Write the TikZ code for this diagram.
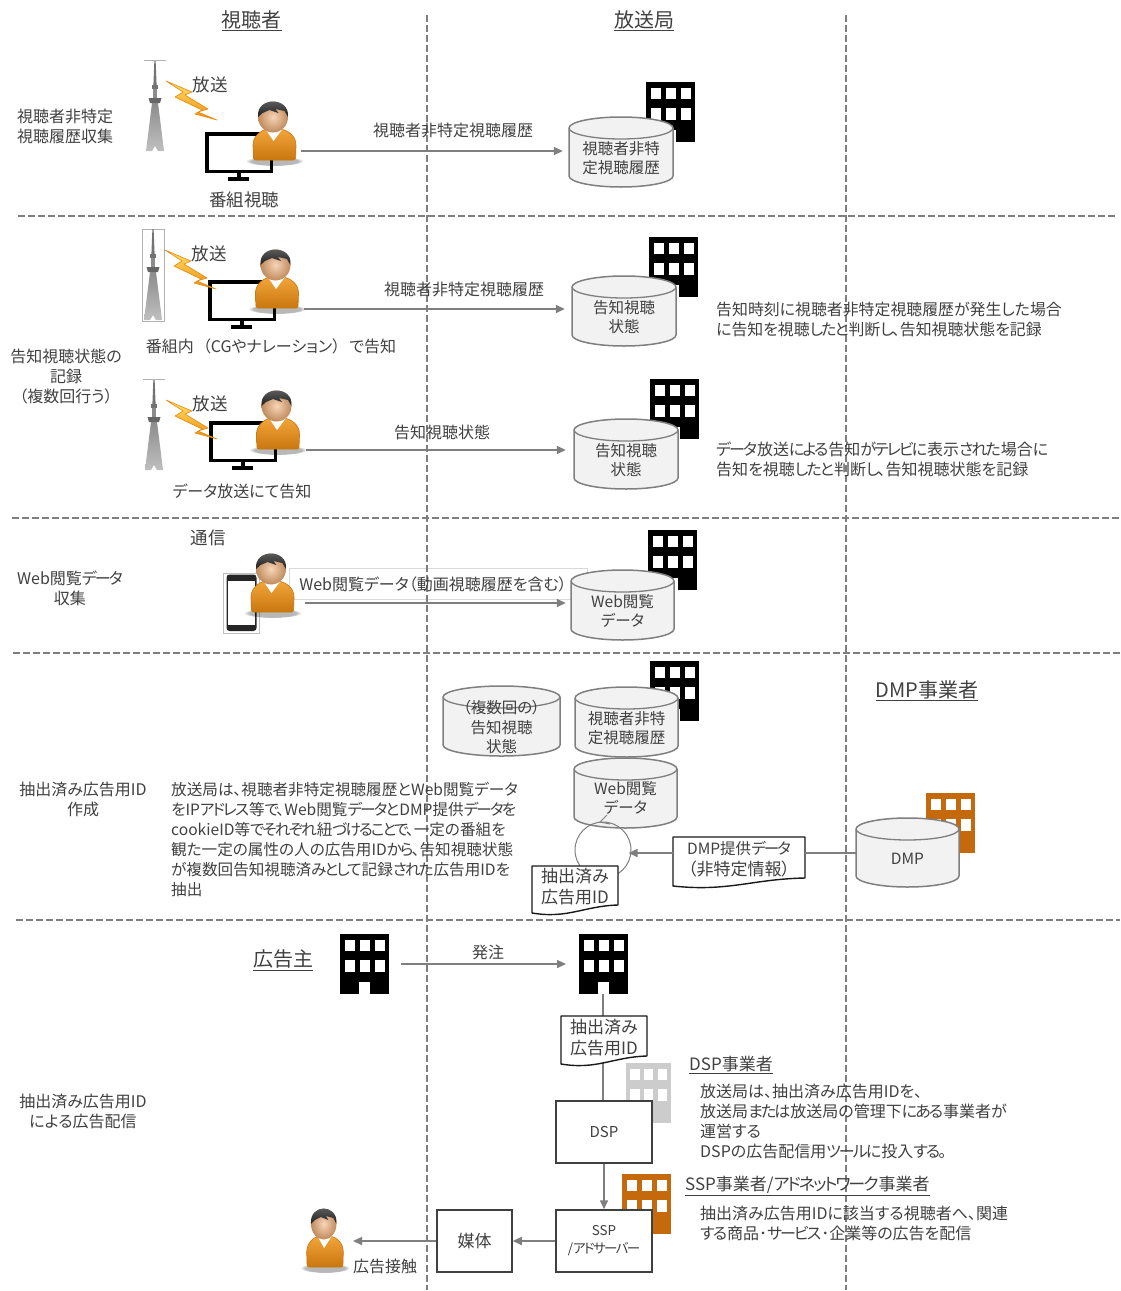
\documentclass[tikz,border=0pt]{standalone}
\usepackage{fontspec}
\setmainfont[RawFeature=+palt]{Noto Sans CJK JP}
\usetikzlibrary{arrows.meta,fadings,calc}
\newcommand\nk[1]{{\addfontfeature{LetterSpace=-12}#1}}
\definecolor{ink}{HTML}{404040}
\definecolor{gline}{HTML}{7F7F7F}
\definecolor{orangeb}{HTML}{C46A0C}
\definecolor{boltA}{HTML}{FFE36A}
\definecolor{boltB}{HTML}{EE8C0C}
\definecolor{boltE}{HTML}{E58A10}
\definecolor{bodyA}{HTML}{F2A53A}
\definecolor{bodyB}{HTML}{C9770F}
\definecolor{faceA}{HTML}{F6D5B8}
\definecolor{faceB}{HTML}{C08A5C}
\definecolor{hairA}{HTML}{5A5A5A}
\definecolor{hairB}{HTML}{1E1E1E}
\tikzset{
  x=1pt,y=-1pt,
  txt/.style={text=ink,inner sep=0pt,align=center,font=\fontsize{16}{20}\selectfont},
  txtb/.style={txt,font=\fontsize{17.5}{20}\selectfont},
  txtc/.style={txt,font=\fontsize{15.5}{19.5}\selectfont},
  txtl/.style={txt,anchor=west,align=left},
  titletxt/.style={txt,font=\fontsize{20}{24}\selectfont},
  subtitle/.style={txt,font=\fontsize{17}{20}\selectfont},
  dashline/.style={draw=gline,line width=1.3pt,dash pattern=on 6.5pt off 3.5pt},
  conn/.style={draw=gline,line width=1.5pt},
  arr/.style={conn,-{Triangle[length=9pt,width=8pt]}},
  cylbody/.style={fill=black!5,draw=gline,line width=1.5pt,line join=round},
  cylrim/.style={draw=gline,line width=1.3pt},
  sqbox/.style={draw=ink,fill=white,line width=1.5pt,text=ink,inner sep=0pt,align=center},
  pics/bldg/.style={code={
    \fill[#1] (0,0) rectangle (49,60);
    \foreach \cx in {4.7,19.5,34.5}{
      \fill[white] (\cx,5.5) rectangle (\cx+10.3,16.5);
      \fill[white] (\cx,25.5) rectangle (\cx+10.3,38);
    }
    \fill[white] (19,48) rectangle (29.5,60);
  }},
  pics/personfig/.style={code={
    \fill[black,opacity=.28,path fading=circle with fuzzy edge 20 percent] (0,1) ellipse (29 and 5);
    \shade[top color=bodyA,bottom color=bodyB,draw=bodyB,line width=.6pt,rounded corners=2pt]
      (-21,0) -- (-21.5,-13) .. controls (-21.5,-25) and (-12,-30) .. (-6,-31) -- (5,-31)
      .. controls (12,-30) and (21.5,-25) .. (21.5,-13) -- (21,0) -- cycle;
    \fill[white] (-9,-31) -- (-1,-19) -- (8,-31) -- cycle;
    \shade[inner color=faceA,outer color=faceB] (-1.5,-43) ellipse (15 and 15.5);
    \shade[top color=hairA,bottom color=hairB]
      (-16.5,-43) .. controls (-17.5,-54) and (-9,-58.5) .. (-1.5,-58.5)
      .. controls (6,-58.5) and (14.5,-54) .. (13.5,-43) -- (10,-49) -- (1,-51) -- (4,-47)
      -- (-5,-50) -- (-12,-47) -- cycle;
  }},
  pics/monitorfig/.style={code={
    \draw[black,line width=3.5pt,fill=white] (1.75,1.75) rectangle (66.25,39.25);
    \fill[black] (31.5,41) rectangle (35.5,46);
    \fill[black] (23,45) rectangle (44,48.5);
  }},
  pics/towerfig/.style={code={
    \fill[black!55] (-.6,0) -- (.6,0) -- (1.6,25) -- (-1.6,25) -- cycle;
    \fill[black!55] (-3,25) rectangle (3,29);
    \fill[black!45] (-2,29) rectangle (2,38);
    \fill[black!60] (-6.5,38) -- (6.5,38) -- (5,43) -- (-5,43) -- cycle;
    \shade[top color=black!45,bottom color=black!25] (-3,43) -- (3,43) -- (9,91) -- (3,91) -- (0,86) -- (-3,91) -- (-9,91) -- cycle;
  }},
  pics/boltfig/.style={code={
    \shade[top color=boltA,bottom color=boltB,draw=boltE,line width=.6pt,line join=round]
      (0,0) -- (26,11) -- (19,14) -- (42,28) -- (32,31) -- (51,39) -- (29,33) -- (36,29) -- (9,16) -- (17,11) -- cycle;
  }},
  pics/phonefig/.style={code={
    \draw[black!25,line width=.6pt] (0,0) rectangle (36,60);
    \fill[black!85,rounded corners=3pt] (3.5,1.5) rectangle (33.5,58);
    \fill[white] (5,8) rectangle (32,52);
  }},
}
% name, x, y, width, height, text centre (relative y), text
\newcommand\cylnode[7]{%
  \begin{scope}[shift={(#2,#3)}]
    \path[cylbody] (0,11) .. controls (0,5) and (.225*#4,0) .. (.5*#4,0) .. controls (.775*#4,0) and (#4,5) .. (#4,11)
      -- (#4,#5-11) .. controls (#4,#5-5) and (.775*#4,#5) .. (.5*#4,#5)
      .. controls (.225*#4,#5) and (0,#5-5) .. (0,#5-11) -- cycle;
    \draw[cylrim] (0,11) .. controls (0,17) and (.225*#4,22) .. (.5*#4,22) .. controls (.775*#4,22) and (#4,17) .. (#4,11);
    \node[txtc,minimum width=#4 pt] (#1) at (.5*#4,#6) {#7};
  \end{scope}}
% name, x, y, width, height, text
\newcommand\docnode[6]{%
  \begin{scope}[shift={(#2,#3)}]
    \path[fill=white,draw=black!90,line width=1.4pt,line join=round] (0,0) -- (#4,0) -- (#4,#5-11)
      .. controls (.6*#4,#5-10) and (.42*#4,#5+3) .. (0,#5-3) -- cycle;
    \node[txt,minimum width=#4 pt,font=\fontsize{17}{21}\selectfont] (#1) at (.5*#4,.5*#5-4) {#6};
  \end{scope}}
\begin{document}
\begin{tikzpicture}[x=1pt,y=-1pt]
\useasboundingbox (0,0) rectangle (1121,1291);
% white label behind the dashed line
\node[draw=black!15,fill=white,minimum width=298pt,minimum height=31pt,inner sep=0pt] (weblabelbox) at (438,583.5) {};
% separators
\draw[dashline] (427,15) -- (427,1290);
\draw[dashline] (846,15) -- (846,1290);
\draw[dashline] (18,216) -- (1118,216);
\draw[dashline] (12,518) -- (1120,518);
\draw[dashline] (13,653) -- (1120,653);
\draw[dashline] (16,920) -- (1120,920);
% headers
\node[titletxt] (hviewer) at (251.5,21) {\underline{視聴者}};
\node[titletxt] (hstation) at (644,21) {\underline{放送局}};
% row 1
\node[txt] (r1) at (65,126) {視聴者非特定\\視聴履歴収集};
\pic at (155,60) {towerfig};
\draw[black!30,line width=.7pt] (144,60) -- (166,60);
\pic at (205,132) {monitorfig};
\pic at (166,81) {boltfig};
\pic at (274.5,160) {personfig};
\node[txtb] (b1) at (210,85) {放送};
\node[txtb] (w1) at (244,200) {番組視聴};
\pic at (646,82) {bldg=black};
\cylnode{c1}{569}{117}{104}{70}{41}{視聴者非特\\定視聴履歴}
\coordinate (s1) at (301,151);
\draw[arr,shorten >=6pt] (s1) -- (c1.west |- s1);
\node[txt] (l1) at (453,130) {視聴者非特定視聴履歴};
% row 2
\node[txt] (r2) at (66,377) {告知視聴状態の\\記録\\（複数回行う）};
\draw[black!30,line width=.7pt] (142,229) rectangle (164,321);
\pic at (153,229) {towerfig};
\pic at (208,280) {monitorfig};
\pic at (165,250) {boltfig};
\pic at (277,308) {personfig};
\node[txtb] (b2) at (209,254) {放送};
\node[txt] (w2) at (271,346) {番組内\kern9pt（CGやナレーション）\kern9pt で告知};
\pic at (649,237) {bldg=black};
\cylnode{c2}{572}{276}{104}{70}{41}{告知視聴\\状態}
\coordinate (s2) at (304,309);
\draw[arr,shorten >=7pt] (s2) -- (c2.west |- s2);
\node[txt] (l2) at (464,289) {視聴者非特定視聴履歴};
\node[txtl,font=\fontsize{15.9}{20}\selectfont] (n2) at (716,319) {告知時刻に視聴者非特定視聴履歴が発生した場合\\\nk{に}告知\nk{を}視聴\nk{したと}判断\nk{し、}告知視聴状態\nk{を}記録};
% row 3
\pic at (154,379) {towerfig};
\draw[black!30,line width=.7pt] (143,379) -- (165,379);
\pic at (209,421) {monitorfig};
\pic at (166,400) {boltfig};
\pic at (278,449) {personfig};
\node[txtb] (b3) at (210,404) {放送};
\node[txt] (w3) at (242,491) {データ放送にて告知};
\pic at (650,379) {bldg=black};
\cylnode{c3}{574}{419}{104}{70}{41}{告知視聴\\状態}
\coordinate (s3) at (306,450);
\draw[arr,shorten >=8pt] (s3) -- (c3.west |- s3);
\node[txt] (l3) at (442,432) {告知視聴状態};
\node[txtl] (n3) at (716,459) {\nk{データ}放送\nk{による}告知\nk{がテレビに}表示\nk{された}場合\nk{に}\\告知\nk{を}視聴\nk{したと}判断\nk{し、}告知視聴状態\nk{を}記録};
% row 4
\node[txtb] (b4) at (208,538) {通信};
\node[txt] (r4) at (70,588) {Web閲覧\nk{データ}\\収集};
\pic at (223,573) {phonefig};
\pic at (272.5,612) {personfig};
\pic at (648,530) {bldg=black};
\cylnode{c4}{571}{570}{103}{70}{41}{Web閲覧\\データ}
\coordinate (s4) at (305,603);
\draw[arr,shorten >=5pt] (s4) -- (c4.west |- s4);
\node[txt] (l4) at (433,584) {Web閲覧データ（動画視聴履歴を含む）};
% row 5
\node[txt] (r5) at (83,799) {抽出済み広告用ID\\作成};
\node[titletxt] (hdmp) at (927,691) {\underline{DMP事業者}};
\pic at (650,661) {bldg=black};
\cylnode{c5a}{443}{686}{117}{70}{41}{（複数回の）\\告知視聴\\状態}
\cylnode{c5b}{575}{687}{103}{70}{41}{視聴者非特\\定視聴履歴}
\cylnode{c5c}{574}{758}{103}{70}{40}{Web閲覧\\データ}
\node[txtl,font=\fontsize{15.6}{20}\selectfont] (n5) at (171,839) {放送局は、視聴者非特定視聴履歴とWeb閲覧データ\\\nk{を}IP\nk{アドレス}等\nk{で、}Web閲覧\nk{データと}DMP提供\nk{データを}\\cookieID等\nk{でそれぞれ}紐\nk{づけることで、}一定\nk{の}番組\nk{を}\\観\nk{た}一定\nk{の}属性\nk{の}人\nk{の}広告用ID\nk{から、}告知視聴状態\\\nk{が}複数回告知視聴済\nk{みとして}記録\nk{された}広告用ID\nk{を}\\抽出};
\node[circle,draw=gline,line width=1pt,minimum size=56pt,inner sep=0pt] (loopc) at (603,850) {};
\coordinate (looptip) at (600,822);
\draw[draw=gline,line width=1pt] ($(looptip)+(7,-7)$) -- (looptip) -- ($(looptip)+(10,2)$);
\docnode{idoc1}{532}{866}{86}{50}{抽出済み\\広告用ID}
\pic at (926,793) {bldg=orangeb};
\cylnode{cdmp}{856}{818}{103}{69}{41}{DMP}
\docnode{ddoc}{673}{837}{132}{52}{\fontsize{15.5}{20}\selectfont DMP提供\nk{データ}\\（非特定情報）}
\coordinate (s5) at (820,853);
\draw[conn] (cdmp.west |- s5) -- (ddoc.east |- s5);
\draw[arr,shorten >=-3pt] (ddoc.west |- s5) -- (loopc.east |- s5);
% row 6
\node[txt] (r6) at (83,1111) {抽出済み広告用ID\\による広告配信};
\node[titletxt] (hadv) at (283,960) {\underline{広告主}};
\pic at (340,934) {bldg=black};
\pic at (579,934) {bldg=black};
\coordinate (sadv) at (401,964);
\coordinate (tadv) at (566,964);
\draw[arr] (sadv) -- (tadv);
\node[txt] (l6) at (488,952) {発注};
\pic[transform shape,xscale=.92] at (626,1063) {bldg=black!20};
\pic at (622,1174) {bldg=orangeb};
\node[sqbox,minimum width=96pt,minimum height=62pt,font=\fontsize{15}{18}\selectfont] (dsp) at (604,1132) {\raisebox{-1pt}{DSP}};
\node[sqbox,minimum width=96pt,minimum height=62pt,font=\fontsize{13.5}{18}\selectfont] (ssp) at (604,1241) {\raisebox{-2pt}{SSP}\\\raisebox{-2pt}{/\nk{アドサーバー}}};
\node[sqbox,minimum width=75pt,minimum height=62pt,font=\fontsize{17}{20}\selectfont] (media) at (474.5,1241) {媒体};
\coordinate (bstb) at (603,994);
\draw[conn] (bstb) -- (bstb |- dsp.north);
\docnode{idoc2}{561}{1016}{86}{51}{抽出済み\\広告用ID}
\draw[arr] (dsp.south) -- (ssp.north);
\draw[arr] (ssp.west) -- (media.east);
\pic[transform shape,xscale=.85] at (325,1267) {personfig};
\coordinate (tperson) at (353,1241);
\draw[arr] (media.west) -- (tperson);
\node[txt] (w6) at (385,1266) {広告接触};
\node[subtitle,anchor=west] (hdsp) at (689,1065) {\underline{DSP事業者}};
\node[txtl] (n6a) at (700,1121) {放送局は、抽出済み広告用IDを、\\放送局\nk{または}放送局\nk{の}管理下\nk{にある}事業者\nk{が}\\運営する\\DSP\nk{の}広告配信用\nk{ツールに}投入\nk{する。}};
\node[subtitle,anchor=west] (hssp) at (685,1186) {\underline{SSP事業者/\nk{アドネットワーク}事業者}};
\node[txtl] (n6b) at (700,1223) {抽出済み広告用IDに該当する視聴者へ、関連\\\nk{する}商品･\nk{サービス}･企業等\nk{の}広告\nk{を}配信};
\end{tikzpicture}
\end{document}
